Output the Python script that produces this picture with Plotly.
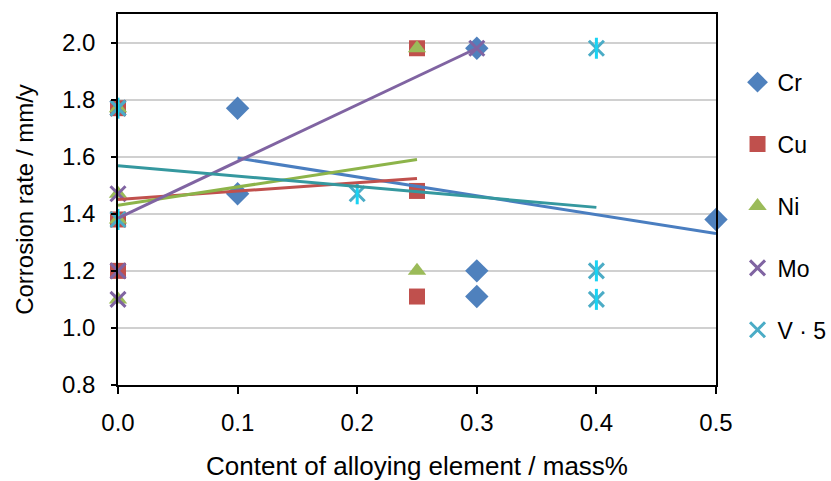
import numpy as np
import plotly.graph_objects as go

# ---- data ----
cr_x = [0.1, 0.1, 0.3, 0.3, 0.3, 0.5]
cr_y = [1.77, 1.47, 1.98, 1.20, 1.11, 1.38]

cu_x = [0.0, 0.0, 0.0, 0.25, 0.25, 0.25]
cu_y = [1.77, 1.38, 1.20, 1.98, 1.48, 1.11]

ni_x = [0.0, 0.0, 0.0, 0.0, 0.25, 0.25]
ni_y = [1.77, 1.47, 1.38, 1.10, 1.98, 1.20]

mo_x = [0.0, 0.0, 0.0, 0.0, 0.3]
mo_y = [1.77, 1.47, 1.20, 1.10, 1.98]

v_x = [0.0, 0.0, 0.2, 0.4, 0.4, 0.4]
v_y = [1.77, 1.38, 1.47, 1.98, 1.20, 1.10]

series_names = ["Cr", "Cu", "Ni", "Mo", "V · 5"]
x_ticks = [0.0, 0.1, 0.2, 0.3, 0.4, 0.5]
y_ticks = [0.8, 1.0, 1.2, 1.4, 1.6, 1.8, 2.0]

colors = ["#4F81BD", "#C0504D", "#9BBB59", "#8064A2", "#4BACC6"]
line_colors = ["#4A7EC0", "#C0504D", "#8DB44A", "#8064A2", "#35989F"]

FONT = "Liberation Sans, Arial, sans-serif"

fig = go.Figure()

data = [(cr_x, cr_y), (cu_x, cu_y), (ni_x, ni_y), (mo_x, mo_y), (v_x, v_y)]
marker_styles = [
    dict(symbol="diamond", size=18),
    dict(symbol="square", size=16),
    dict(symbol="triangle-up", size=16),
    dict(symbol="x-thin-open", size=15, line=dict(width=3)),
    dict(symbol="x-thin-open", size=15, line=dict(width=3)),
]

for i, ((xs, ys), name) in enumerate(zip(data, series_names)):
    m = dict(marker_styles[i])
    m["color"] = colors[i]
    if "line" in m:
        m["line"] = dict(width=3, color=colors[i])
    fig.add_trace(go.Scatter(x=xs, y=ys, mode="markers", name=name,
                             marker=m, legendgroup=name, showlegend=True,
                             cliponaxis=False))
    if i == 4:
        # vertical bar to complete the star marker
        fig.add_trace(go.Scatter(x=xs, y=ys, mode="markers", name=name,
                                 marker=dict(symbol="line-ns-open", size=15,
                                             line=dict(width=3, color=colors[i])),
                                 legendgroup=name, showlegend=False,
                                 cliponaxis=False))

# linear trendlines (least squares) over each series' x range
for i, ((xs, ys), name) in enumerate(zip(data, series_names)):
    k, b = np.polyfit(xs, ys, 1)
    xe = [min(xs), max(xs)]
    ye = [k * v + b for v in xe]
    fig.add_trace(go.Scatter(x=xe, y=ye, mode="lines",
                             line=dict(color=line_colors[i], width=3),
                             legendgroup=name, showlegend=False, hoverinfo="skip",
                             cliponaxis=False))

fig.update_layout(
    width=831, height=481,
    margin=dict(l=118, r=115, t=14, b=96, autoexpand=False),
    paper_bgcolor="white", plot_bgcolor="white",
    font=dict(family=FONT, size=24, color="#000000"),
    showlegend=True,
    legend=dict(x=1.036, y=0.874, xanchor="left", yanchor="top",
                font=dict(size=23), tracegroupgap=29, itemwidth=30,
                bgcolor="rgba(0,0,0,0)"),
)

fig.update_xaxes(
    range=[0, 0.5], tickvals=x_ticks, ticktext=[f"{v:.1f}" for v in x_ticks],
    showgrid=False, zeroline=False, automargin=False,
    showline=True, linecolor="#000000", linewidth=1.5, mirror=True,
    ticks="outside", ticklen=7, tickwidth=1.5, tickcolor="#000000",
    ticklabelstandoff=8,
    title=dict(text="Content of alloying element / mass%", font=dict(size=26), standoff=23),
)
fig.update_yaxes(
    range=[0.8, 2.1], tickvals=y_ticks, ticktext=[f"{v:.1f}" for v in y_ticks],
    showgrid=True, gridcolor="#D0D0D0", gridwidth=1.5, zeroline=False, automargin=False,
    showline=True, linecolor="#000000", linewidth=1.5, mirror=True,
    ticks="outside", ticklen=5, tickwidth=1.5, tickcolor="#000000",
    ticklabelstandoff=11,
    title=dict(text="Corrosion rate / mm/y", font=dict(size=24), standoff=22),
)

fig.write_html("out.html", config={"displayModeBar": False},
               post_script="document.body.style.margin='0';")
